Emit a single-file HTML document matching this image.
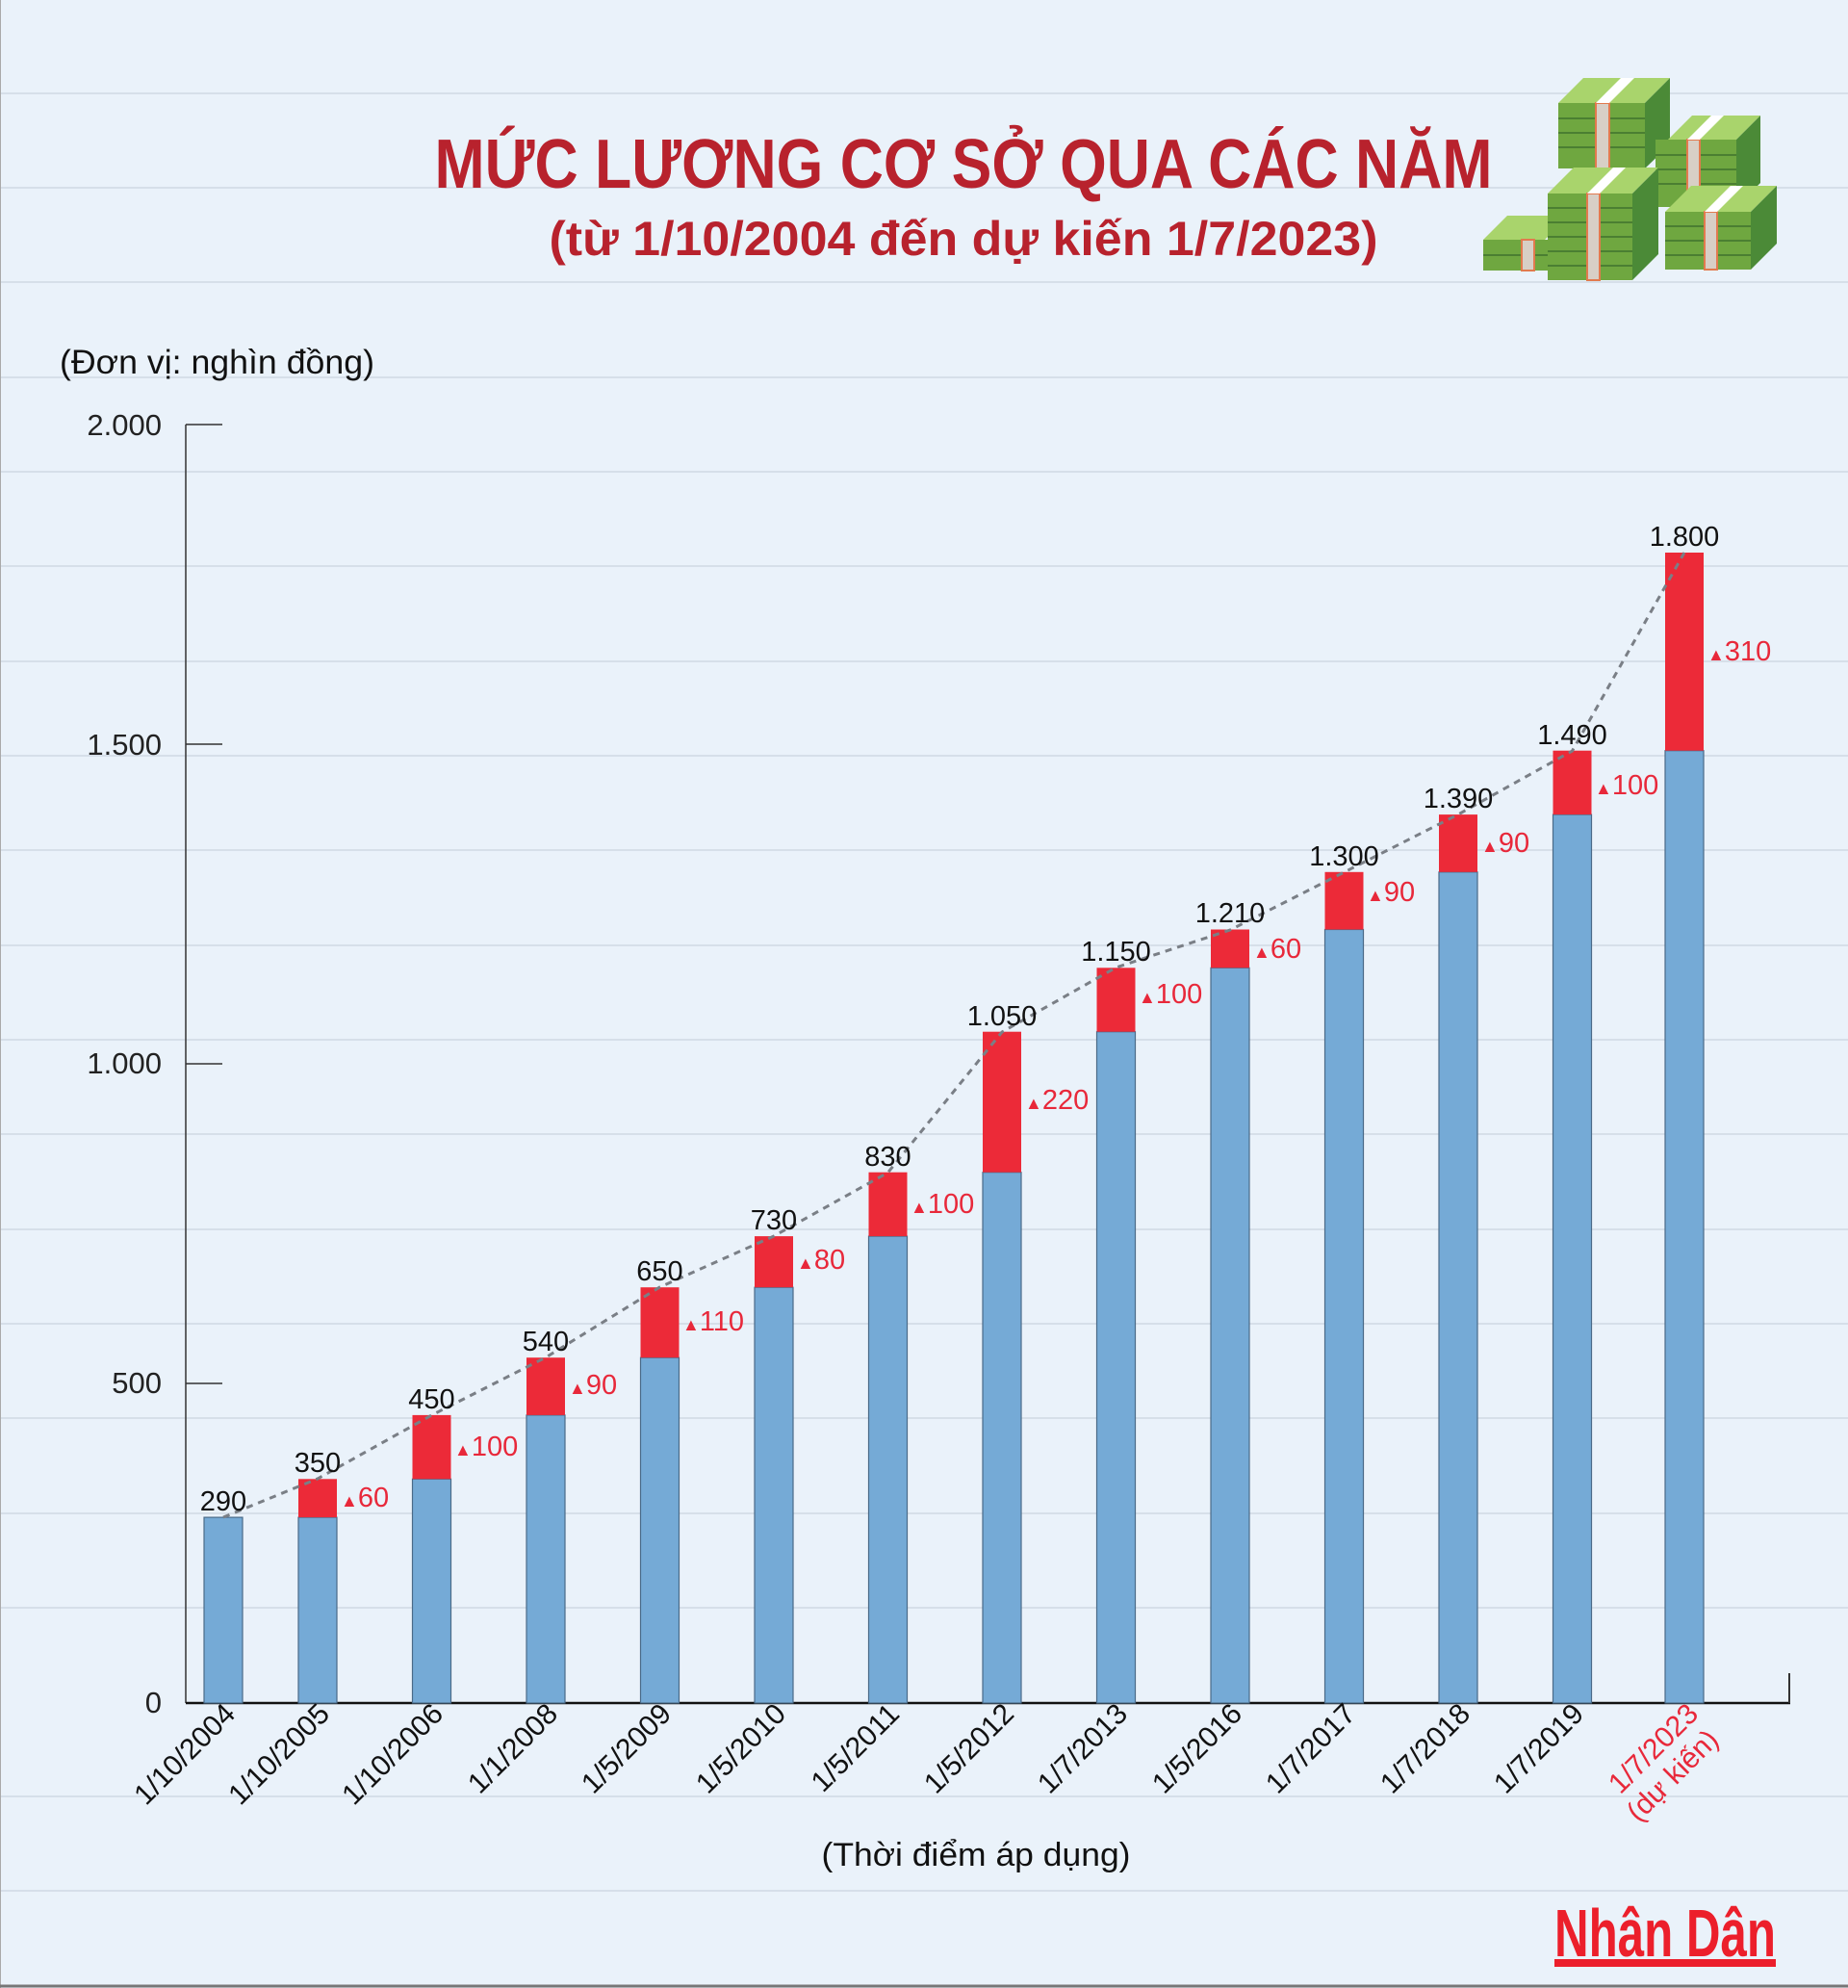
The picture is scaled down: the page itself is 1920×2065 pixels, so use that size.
<!DOCTYPE html>
<html><head><meta charset="utf-8"><style>
html,body{margin:0;padding:0;background:#eaf2fa;}
svg{display:block;font-family:"Liberation Sans",sans-serif;}
</style></head><body>
<svg width="1920" height="2065" viewBox="0 0 1920 2065" xmlns="http://www.w3.org/2000/svg">
<rect width="1920" height="2065" fill="#eaf2fa"/>
<g stroke="#d6dfe9" stroke-width="2">
<line x1="0" y1="1866" x2="1920" y2="1866"/><line x1="0" y1="1964" x2="1920" y2="1964"/>
<line x1="0" y1="1670" x2="1920" y2="1670"/><line x1="0" y1="1572" x2="1920" y2="1572"/>
<line x1="0" y1="1473" x2="1920" y2="1473"/><line x1="0" y1="1375" x2="1920" y2="1375"/>
<line x1="0" y1="1277" x2="1920" y2="1277"/><line x1="0" y1="1178" x2="1920" y2="1178"/>
<line x1="0" y1="1080" x2="1920" y2="1080"/><line x1="0" y1="982" x2="1920" y2="982"/>
<line x1="0" y1="883" x2="1920" y2="883"/><line x1="0" y1="785" x2="1920" y2="785"/>
<line x1="0" y1="687" x2="1920" y2="687"/><line x1="0" y1="588" x2="1920" y2="588"/>
<line x1="0" y1="490" x2="1920" y2="490"/><line x1="0" y1="392" x2="1920" y2="392"/>
<line x1="0" y1="293" x2="1920" y2="293"/><line x1="0" y1="195" x2="1920" y2="195"/>
<line x1="0" y1="97" x2="1920" y2="97"/>
</g>
<line x1="0" y1="0" x2="0" y2="2065" stroke="#aaa" stroke-width="2"/>
<line x1="0" y1="2063" x2="1920" y2="2063" stroke="#777" stroke-width="3"/>

<text x="1001" y="195" text-anchor="middle" font-size="72" font-weight="bold" fill="#b8222d" textLength="1099" lengthAdjust="spacingAndGlyphs">MỨC LƯƠNG CƠ SỞ QUA CÁC NĂM</text>
<text x="1001" y="265" text-anchor="middle" font-size="50" font-weight="bold" fill="#b8222d" textLength="861" lengthAdjust="spacingAndGlyphs">(từ 1/10/2004 đến dự kiến 1/7/2023)</text>

<g id="money">
<g>
<polygon points="1619,107 1645,81 1735,81 1709,107" fill="#a9d46c"/>
<polygon points="1709,107 1735,81 1735,150 1709,175" fill="#4b8a37"/>
<rect x="1619" y="107" width="90" height="68" fill="#6fa740"/>
<g stroke="#4b7f32" stroke-width="2"><line x1="1619" y1="123" x2="1709" y2="123"/><line x1="1619" y1="138" x2="1709" y2="138"/><line x1="1619" y1="153" x2="1709" y2="153"/></g>
<rect x="1658" y="107" width="14" height="68" fill="#d8cfc6" stroke="#e27a4e" stroke-width="2"/>
<polygon points="1658,107 1672,107 1698,81 1684,81" fill="#fff"/>
</g>
<g>
<polygon points="1733,145 1758,120 1829,120 1804,145" fill="#a9d46c"/>
<polygon points="1804,145 1829,120 1829,190 1804,215" fill="#4b8a37"/>
<rect x="1720" y="145" width="84" height="70" fill="#6fa740"/>
<g stroke="#4b7f32" stroke-width="2"><line x1="1720" y1="161" x2="1804" y2="161"/><line x1="1720" y1="176" x2="1804" y2="176"/><line x1="1720" y1="191" x2="1804" y2="191"/></g>
<rect x="1753" y="145" width="13" height="70" fill="#d8cfc6" stroke="#e27a4e" stroke-width="2"/>
<polygon points="1753,145 1766,145 1791,120 1778,120" fill="#fff"/>
</g>
<g>
<polygon points="1541,249 1566,224 1630,224 1605,249" fill="#a9d46c"/>
<rect x="1541" y="249" width="70" height="32" fill="#6fa740"/>
<line x1="1541" y1="265" x2="1611" y2="265" stroke="#4b7f32" stroke-width="2"/>
<rect x="1581" y="249" width="13" height="32" fill="#d8cfc6" stroke="#e27a4e" stroke-width="2"/>
</g>
<g>
<polygon points="1608,201 1635,174 1723,174 1696,201" fill="#a9d46c"/>
<polygon points="1696,201 1723,174 1723,264 1696,291" fill="#4b8a37"/>
<rect x="1608" y="201" width="88" height="90" fill="#6fa740"/>
<g stroke="#4b7f32" stroke-width="2"><line x1="1608" y1="216" x2="1696" y2="216"/><line x1="1608" y1="231" x2="1696" y2="231"/><line x1="1608" y1="246" x2="1696" y2="246"/><line x1="1608" y1="261" x2="1696" y2="261"/><line x1="1608" y1="276" x2="1696" y2="276"/></g>
<rect x="1649" y="201" width="13" height="90" fill="#d8cfc6" stroke="#e27a4e" stroke-width="2"/>
<polygon points="1649,201 1662,201 1689,174 1676,174" fill="#fff"/>
</g>
<g>
<polygon points="1730,220 1757,193 1846,193 1819,220" fill="#a9d46c"/>
<polygon points="1819,220 1846,193 1846,253 1819,280" fill="#4b8a37"/>
<rect x="1730" y="220" width="89" height="60" fill="#6fa740"/>
<g stroke="#4b7f32" stroke-width="2"><line x1="1730" y1="235" x2="1819" y2="235"/><line x1="1730" y1="250" x2="1819" y2="250"/><line x1="1730" y1="265" x2="1819" y2="265"/></g>
<rect x="1771" y="220" width="13" height="60" fill="#d8cfc6" stroke="#e27a4e" stroke-width="2"/>
<polygon points="1771,220 1784,220 1811,193 1798,193" fill="#fff"/>
</g>
</g>

<text x="62" y="388" font-size="35" fill="#111" textLength="327" lengthAdjust="spacingAndGlyphs">(Đơn vị: nghìn đồng)</text>

<g font-size="31" fill="#222" text-anchor="end">
<text x="168" y="452">2.000</text>
<text x="168" y="784">1.500</text>
<text x="168" y="1115">1.000</text>
<text x="168" y="1447">500</text>
<text x="168" y="1779">0</text>
</g>
<g stroke="#333" stroke-width="1.5">
<line x1="193" y1="441" x2="231" y2="441"/>
<line x1="193" y1="773" x2="231" y2="773"/>
<line x1="193" y1="1105" x2="231" y2="1105"/>
<line x1="193" y1="1437" x2="231" y2="1437"/>
</g>
<line x1="193" y1="441" x2="193" y2="1769" stroke="#333" stroke-width="1.5"/>
<line x1="193" y1="1769" x2="1860" y2="1769" stroke="#111" stroke-width="2.5"/>
<line x1="1859" y1="1738" x2="1859" y2="1769" stroke="#333" stroke-width="2"/>

<g stroke="#4a6a88" stroke-width="1.2">
<rect x="212" y="1576.1" width="40" height="192.9" fill="#75aad6"/>
<rect x="310" y="1576.1" width="40" height="192.9" fill="#75aad6"/>
<rect x="310" y="1536.3" width="40" height="39.8" fill="#ec2a38" stroke="none"/>
<rect x="428.5" y="1536.3" width="40" height="232.7" fill="#75aad6"/>
<rect x="428.5" y="1469.9" width="40" height="66.4" fill="#ec2a38" stroke="none"/>
<rect x="547" y="1469.9" width="40" height="299.1" fill="#75aad6"/>
<rect x="547" y="1410.2" width="40" height="59.7" fill="#ec2a38" stroke="none"/>
<rect x="665.5" y="1410.2" width="40" height="358.8" fill="#75aad6"/>
<rect x="665.5" y="1337.2" width="40" height="73" fill="#ec2a38" stroke="none"/>
<rect x="784" y="1337.2" width="40" height="431.8" fill="#75aad6"/>
<rect x="784" y="1284.1" width="40" height="53.1" fill="#ec2a38" stroke="none"/>
<rect x="902.5" y="1284.1" width="40" height="484.9" fill="#75aad6"/>
<rect x="902.5" y="1217.7" width="40" height="66.4" fill="#ec2a38" stroke="none"/>
<rect x="1021" y="1217.7" width="40" height="551.3" fill="#75aad6"/>
<rect x="1021" y="1071.7" width="40" height="146" fill="#ec2a38" stroke="none"/>
<rect x="1139.5" y="1071.7" width="40" height="697.3" fill="#75aad6"/>
<rect x="1139.5" y="1005.3" width="40" height="66.4" fill="#ec2a38" stroke="none"/>
<rect x="1258" y="1005.3" width="40" height="763.7" fill="#75aad6"/>
<rect x="1258" y="965.5" width="40" height="39.8" fill="#ec2a38" stroke="none"/>
<rect x="1376.5" y="965.5" width="40" height="803.5" fill="#75aad6"/>
<rect x="1376.5" y="905.8" width="40" height="59.7" fill="#ec2a38" stroke="none"/>
<rect x="1495" y="905.8" width="40" height="863.2" fill="#75aad6"/>
<rect x="1495" y="846.1" width="40" height="59.7" fill="#ec2a38" stroke="none"/>
<rect x="1613.5" y="846.1" width="40" height="922.9" fill="#75aad6"/>
<rect x="1613.5" y="779.7" width="40" height="66.4" fill="#ec2a38" stroke="none"/>
<rect x="1730" y="779.7" width="40" height="989.3" fill="#75aad6"/>
<rect x="1730" y="574" width="40" height="205.7" fill="#ec2a38" stroke="none"/>
</g>

<polyline points="232,1576 330,1536 448.5,1470 567,1410 685.5,1337 804,1284 922.5,1218 1041,1072 1159.5,1005 1278,966 1396.5,906 1515,846 1633.5,780 1750,574" fill="none" stroke="#7a7f86" stroke-width="3" stroke-dasharray="7,6"/>

<g font-size="29" fill="#111" text-anchor="middle">
<text x="232" y="1569">290</text>
<text x="330" y="1529">350</text>
<text x="448.5" y="1463">450</text>
<text x="567" y="1403">540</text>
<text x="685.5" y="1330">650</text>
<text x="804" y="1277">730</text>
<text x="922.5" y="1211">830</text>
<text x="1041" y="1065">1.050</text>
<text x="1159.5" y="998">1.150</text>
<text x="1278" y="958">1.210</text>
<text x="1396.5" y="899">1.300</text>
<text x="1515" y="839">1.390</text>
<text x="1633.5" y="773">1.490</text>
<text x="1750" y="567">1.800</text>
</g>

<g font-size="29" fill="#e8283a">
<text x="354" y="1565"><tspan font-size="18">▲</tspan>60</text>
<text x="472" y="1512"><tspan font-size="18">▲</tspan>100</text>
<text x="591" y="1448"><tspan font-size="18">▲</tspan>90</text>
<text x="709" y="1382"><tspan font-size="18">▲</tspan>110</text>
<text x="828" y="1318"><tspan font-size="18">▲</tspan>80</text>
<text x="946" y="1260"><tspan font-size="18">▲</tspan>100</text>
<text x="1065" y="1152"><tspan font-size="18">▲</tspan>220</text>
<text x="1183" y="1042"><tspan font-size="18">▲</tspan>100</text>
<text x="1302" y="995"><tspan font-size="18">▲</tspan>60</text>
<text x="1420" y="936"><tspan font-size="18">▲</tspan>90</text>
<text x="1539" y="885"><tspan font-size="18">▲</tspan>90</text>
<text x="1657" y="825"><tspan font-size="18">▲</tspan>100</text>
<text x="1774" y="686"><tspan font-size="18">▲</tspan>310</text>
</g>

<g font-size="30" fill="#111" text-anchor="end">
<text transform="translate(246,1782) rotate(-45)">1/10/2004</text>
<text transform="translate(344,1782) rotate(-45)">1/10/2005</text>
<text transform="translate(462,1782) rotate(-45)">1/10/2006</text>
<text transform="translate(581,1782) rotate(-45)">1/1/2008</text>
<text transform="translate(699,1782) rotate(-45)">1/5/2009</text>
<text transform="translate(818,1782) rotate(-45)">1/5/2010</text>
<text transform="translate(936,1782) rotate(-45)">1/5/2011</text>
<text transform="translate(1055,1782) rotate(-45)">1/5/2012</text>
<text transform="translate(1173,1782) rotate(-45)">1/7/2013</text>
<text transform="translate(1292,1782) rotate(-45)">1/5/2016</text>
<text transform="translate(1410,1782) rotate(-45)">1/7/2017</text>
<text transform="translate(1529,1782) rotate(-45)">1/7/2018</text>
<text transform="translate(1647,1782) rotate(-45)">1/7/2019</text>
<g fill="#e8283a" transform="translate(1766,1782) rotate(-45)">
<text x="0" y="0">1/7/2023</text>
<text x="-4" y="34">(dự kiến)</text>
</g>
</g>

<text x="1014" y="1938" text-anchor="middle" font-size="34" fill="#111" textLength="321" lengthAdjust="spacingAndGlyphs">(Thời điểm áp dụng)</text>

<text x="1730" y="2032" text-anchor="middle" font-size="70" font-weight="bold" fill="#ec1f2b" textLength="230" lengthAdjust="spacingAndGlyphs">Nhân Dân</text>
<rect x="1615" y="2035" width="230" height="8" fill="#ec1f2b"/>
</svg>
</body></html>
